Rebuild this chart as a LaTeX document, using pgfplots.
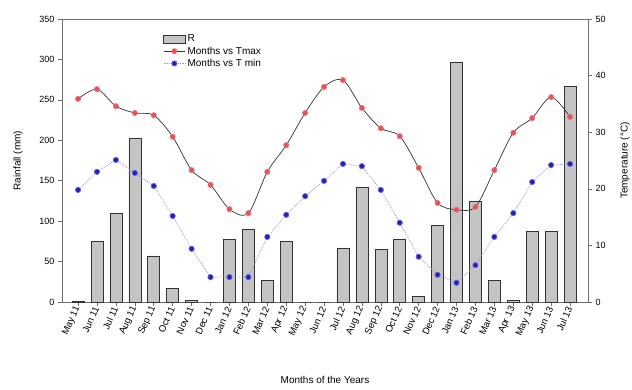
\documentclass[border=0pt]{standalone}
\usepackage{fontspec}
\setmainfont{Liberation Sans}
\usepackage{pgfplots}
\pgfplotsset{compat=1.18}
\usepackage{pgfplotstable}
\pgfplotstableread{
x rain tmax tmin
1 1 35.9 19.8
2 75 37.6 23.0
3 110 34.6 25.1
4 202 33.4 22.8
5 57 33.0 20.5
6 17 29.2 15.2
7 2 23.3 9.4
8 0 20.7 4.4
9 77 16.4 4.4
10 90 15.7 4.4
11 27 23.0 11.5
12 75 27.7 15.4
13 0 33.4 18.7
14 0 38.0 21.4
15 67 39.2 24.4
16 142 34.3 24.0
17 65 30.7 19.8
18 78 29.3 14.0
19 7 23.7 8.0
20 95 17.5 4.8
21 297 16.3 3.4
22 124 16.8 6.5
23 27 23.3 11.5
24 2 29.9 15.7
25 87 32.5 21.2
26 87 36.2 24.2
27 267 32.7 24.4
}\data
\definecolor{barfill}{RGB}{196,196,196}
\definecolor{axgray}{RGB}{110,110,110}
\definecolor{tmaxred}{RGB}{225,50,60}
\definecolor{tminblue}{RGB}{30,30,190}
\begin{document}
\begin{tikzpicture}
\useasboundingbox (-62pt,-87pt) rectangle (570pt,302pt);
\pgfplotsset{
  every axis/.append style={
    scale only axis, width=526pt, height=283pt,
    at={(0,0)}, anchor=south west,
    xmin=0.15, xmax=27.95,
    tick label style={font=\fontsize{9}{10}\selectfont},
    label style={font=\fontsize{12}{13}\selectfont},
    /pgf/number format/assume math mode=true,
    axis line style={axgray, line width=0.9pt},
    tick style={axgray, line width=0.6pt},
    tick align=outside,
    major tick length=4pt,
  }
}
\begin{axis}[
  ymin=0, ymax=350, ytick={0,50,...,350},
  ytick pos=left, xtick pos=bottom,
  xtick={1,...,27},
  xticklabels={May 11,Jun 11,Jul 11,Aug 11,Sep 11,Oct 11,Nov 11,Dec 11,Jan 12,Feb 12,Mar 12,Apr 12,May 12,Jun 12,Jul 12,Aug 12,Sep 12,Oct 12,Nov 12,Dec 12,Jan 13,Feb 13,Mar 13,Apr 13,May 13,Jun 13,Jul 13},
  xticklabel style={rotate=66, anchor=east, font=\fontsize{9.5}{10}\selectfont, inner sep=1pt},
  ylabel={Rainfall (mm)},
  xlabel={Months of the Years},
  every axis y label/.style={at={([xshift=-44pt]rel axis cs:0,0.5)}, rotate=90, anchor=center},
  every axis x label/.style={at={([yshift=-78pt]rel axis cs:0.5,0)}, anchor=center},
]
\addplot[ybar, bar width=12pt, fill=barfill, draw=black!80, line width=0.6pt] table[x=x, y=rain] {\data};
\end{axis}
\begin{axis}[
  ymin=0, ymax=50, ytick={0,10,...,50},
  axis x line=none, axis y line*=right,
  ylabel={Temperature (°C)},
  every axis y label/.style={at={([xshift=37pt]rel axis cs:1,0.5)}, rotate=90, anchor=center},
  legend style={draw=none, fill=none, at={(0.19,0.955)}, anchor=north west,
    font=\fontsize{10}{11}\selectfont, row sep=-0.5pt, inner sep=1pt},
  legend cell align=left,
  legend image code/.code={\draw[mark repeat=2,mark phase=2,#1] plot coordinates {(0cm,0cm) (0.38cm,0cm) (0.76cm,0cm)};},
]
\addlegendimage{legend image code/.code={\draw[fill=barfill, draw=black!80, line width=0.6pt] (0cm,-0.13cm) rectangle (0.76cm,0.13cm);}}
\addlegendentry{R}
\addplot[black!80, line width=0.7pt, smooth, mark=*, mark size=2.6pt,
  mark options={fill=tmaxred!85, draw=tmaxred!70, solid}] table[x=x, y=tmax] {\data};
\addlegendentry{Months vs Tmax}
\addplot[tminblue!45, line width=0.8pt, densely dotted, mark=*, mark size=2.6pt,
  mark options={fill=tminblue, draw=tminblue!70, solid}] table[x=x, y=tmin] {\data};
\addlegendentry{Months vs T min}
\end{axis}
\end{tikzpicture}
\end{document}
